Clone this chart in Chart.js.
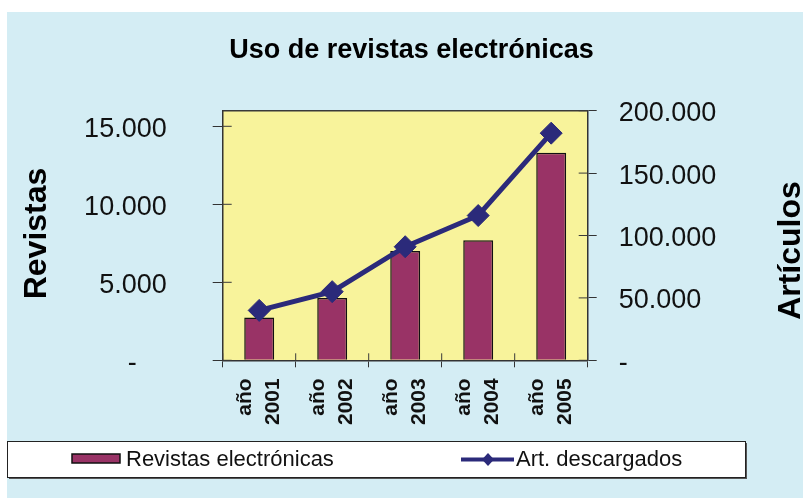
<!DOCTYPE html>
<html>
<head>
<meta charset="utf-8">
<script src="https://cdn.jsdelivr.net/npm/chart.js@4/dist/chart.umd.min.js"></script>
<style>
    html, body { margin: 0; padding: 0; background: #ffffff; }
    #wrap { width: 803px; height: 498px; }
</style>
</head>
<body>
<div id="wrap"><canvas id="usoChart" width="803" height="498"></canvas></div>
<script>
// Datos del grafico
const categorias = [['año', '2001'], ['año', '2002'], ['año', '2003'], ['año', '2004'], ['año', '2005']];
const revistas = [2750, 4000, 7000, 7700, 13300];
const articulos = [40000, 55000, 91000, 116000, 182000];
const ticksRevistas = [0, 5000, 10000, 15000];
const ticksArticulos = [0, 50000, 100000, 150000, 200000];

const FONT = "'Liberation Sans', Arial, sans-serif";
const AZUL_FONDO = '#d4edf4';
const AMARILLO = '#f8f39b';
const GRANATE = '#993366';
const MARINO = '#2b2a7a';

function formatoMiles(v) {
    return String(v).replace(/\B(?=(\d{3})+(?!\d))/g, '.');
}

// Fondo, area de trazado y marcas interiores de los ejes
const fondoPlugin = {
    id: 'fondo',
    beforeDraw(chart) {
        const ctx = chart.ctx;
        const a = chart.chartArea;
        ctx.save();
        ctx.fillStyle = '#ffffff';
        ctx.fillRect(0, 0, chart.width, chart.height);
        ctx.fillStyle = AZUL_FONDO;
        ctx.fillRect(7, 12, chart.width - 7, chart.height - 12);
        ctx.fillStyle = AMARILLO;
        ctx.fillRect(a.left, a.top, a.right - a.left, a.bottom - a.top);
        ctx.restore();
    },
    afterDatasetsDraw(chart) {
        const ctx = chart.ctx;
        const a = chart.chartArea;
        ctx.save();
        ctx.strokeStyle = '#3a3a3a';
        ctx.lineWidth = 1.5;
        ctx.beginPath();
        ctx.moveTo(a.left, a.top);
        ctx.lineTo(a.right, a.top);
        ctx.stroke();
        ctx.lineWidth = 1;
        ctx.beginPath();
        chart.scales.y.ticks.forEach(t => {
            const py = chart.scales.y.getPixelForValue(t.value);
            ctx.moveTo(a.left, py);
            ctx.lineTo(a.left + 9, py);
        });
        chart.scales.y1.ticks.forEach(t => {
            const py = chart.scales.y1.getPixelForValue(t.value);
            ctx.moveTo(a.right, py);
            ctx.lineTo(a.right - 9, py);
        });
        const xs = chart.scales.x;
        for (let i = 0; i <= categorias.length; i++) {
            const px = xs.getPixelForValue(i - 0.5);
            ctx.moveTo(px, a.bottom);
            ctx.lineTo(px, a.bottom - 7);
        }
        ctx.stroke();
        ctx.restore();
    },
    afterDraw(chart) {
        const ctx = chart.ctx;
        const a = chart.chartArea;
        const midY = (a.top + a.bottom) / 2;
        ctx.save();
        // titulos de los ejes
        ctx.fillStyle = '#000';
        ctx.font = 'bold 32px ' + FONT;
        ctx.textAlign = 'center';
        ctx.textBaseline = 'middle';
        ctx.save();
        ctx.translate(37, midY - 2);
        ctx.rotate(-Math.PI / 2);
        ctx.fillText('Revistas', 0, 0);
        ctx.restore();
        ctx.save();
        ctx.translate(791, midY + 15);
        ctx.rotate(-Math.PI / 2);
        ctx.fillText('Artículos', 0, 0);
        ctx.restore();

        // leyenda
        ctx.fillStyle = '#555';
        ctx.fillRect(9, 443, 738, 36);
        ctx.fillStyle = '#ffffff';
        ctx.fillRect(7.5, 441.5, 738, 36);
        ctx.strokeStyle = '#222';
        ctx.lineWidth = 1;
        ctx.strokeRect(7.5, 441.5, 738, 36);

        const dsBar = chart.data.datasets[1];
        const dsLine = chart.data.datasets[0];
        ctx.fillStyle = dsBar.backgroundColor;
        ctx.fillRect(72, 454, 48, 9);
        ctx.strokeStyle = '#111';
        ctx.lineWidth = 1.5;
        ctx.strokeRect(72, 454, 48, 9);

        ctx.font = '22px ' + FONT;
        ctx.fillStyle = '#111';
        ctx.textAlign = 'left';
        ctx.textBaseline = 'middle';
        ctx.fillText(dsBar.label, 126, 460);

        ctx.strokeStyle = dsLine.borderColor;
        ctx.lineWidth = 4;
        ctx.beginPath();
        ctx.moveTo(461, 459.5);
        ctx.lineTo(514, 459.5);
        ctx.stroke();
        ctx.fillStyle = dsLine.borderColor;
        ctx.beginPath();
        ctx.moveTo(488, 453);
        ctx.lineTo(494, 459.5);
        ctx.lineTo(488, 466);
        ctx.lineTo(482, 459.5);
        ctx.closePath();
        ctx.fill();
        ctx.fillStyle = '#111';
        ctx.fillText(dsLine.label, 516, 460);
        ctx.restore();
    }
};

new Chart(document.getElementById('usoChart'), {
    type: 'bar',
    data: {
        labels: categorias,
        datasets: [{
            type: 'line',
            label: 'Art. descargados',
            data: articulos,
            yAxisID: 'y1',
            order: 0,
            borderColor: MARINO,
            backgroundColor: MARINO,
            borderWidth: 5,
            tension: 0,
            pointStyle: 'rectRot',
            pointRadius: 11,
            pointBackgroundColor: MARINO,
            pointBorderColor: MARINO,
            pointBorderWidth: 1
        }, {
            type: 'bar',
            label: 'Revistas electrónicas',
            data: revistas,
            yAxisID: 'y',
            order: 1,
            backgroundColor: GRANATE,
            borderColor: '#111',
            borderWidth: 1.5,
            categoryPercentage: 1,
            barPercentage: 0.41
        }]
    },
    options: {
        responsive: false,
        animation: false,
        layout: {
            padding: { left: 20, right: 0, top: 0, bottom: 70 }
        },
        plugins: {
            legend: { display: false },
            tooltip: { enabled: false },
            title: {
                display: true,
                text: 'Uso de revistas electrónicas',
                color: '#000',
                font: { size: 27, weight: 'bold', family: FONT, lineHeight: 1.2 },
                padding: { top: 34.8, bottom: 43.5 }
            }
        },
        scales: {
            x: {
                offset: true,
                afterFit: function(scale) { scale.height = 67.7; },
                grid: {
                    offset: true,
                    drawOnChartArea: false,
                    color: '#333',
                    tickLength: 7,
                    lineWidth: 1
                },
                border: { display: true, color: '#333', width: 1.5 },
                ticks: {
                    autoSkip: false,
                    minRotation: 90,
                    maxRotation: 90,
                    padding: 11,
                    labelOffset: -14,
                    color: '#111',
                    font: { size: 21, weight: 'bold', family: FONT, lineHeight: 1.35 }
                }
            },
            y: {
                position: 'left',
                min: 0,
                max: 16000,
                afterFit: function(scale) { scale.width = 202.7; },
                afterBuildTicks: function(scale) {
                    scale.ticks = ticksRevistas.map(v => ({ value: v }));
                },
                grid: {
                    drawOnChartArea: false,
                    color: '#333',
                    tickLength: 10,
                    lineWidth: 1
                },
                border: { display: true, color: '#333', width: 1.5 },
                ticks: {
                    padding: 46,
                    labelOffset: 3,
                    color: '#111',
                    font: { size: 27, family: FONT },
                    callback: function(v) { return v === 0 ? '-    ' : formatoMiles(v); }
                }
            },
            y1: {
                position: 'right',
                min: 0,
                max: 200000,
                afterFit: function(scale) { scale.width = 215.3; },
                afterBuildTicks: function(scale) {
                    scale.ticks = ticksArticulos.map(v => ({ value: v }));
                },
                grid: {
                    drawOnChartArea: false,
                    color: '#333',
                    tickLength: 9,
                    lineWidth: 1
                },
                border: { display: true, color: '#333', width: 1.5 },
                ticks: {
                    padding: 22,
                    labelOffset: 3,
                    color: '#111',
                    font: { size: 27, family: FONT },
                    callback: function(v) { return v === 0 ? '-' : formatoMiles(v); }
                }
            }
        }
    },
    plugins: [fondoPlugin]
});
</script>
</body>
</html>
